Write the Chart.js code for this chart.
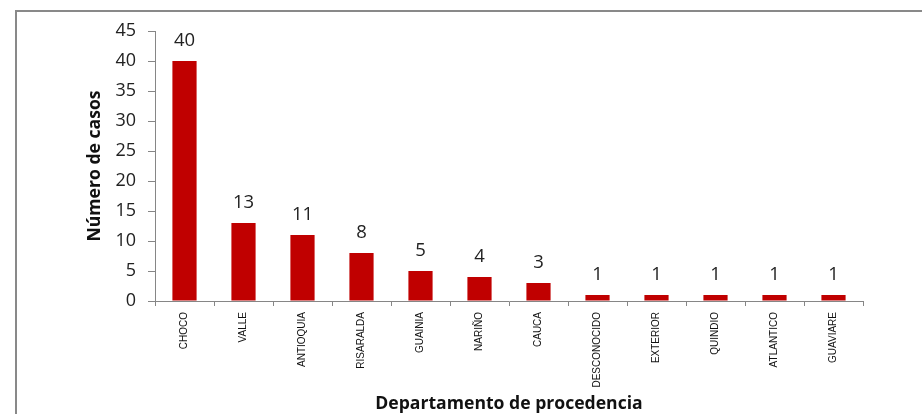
<!DOCTYPE html>
<html>
<head>
<meta charset="utf-8">
<script src="https://cdn.jsdelivr.net/npm/chart.js@4/dist/chart.umd.min.js"></script>
<style>
  html, body { margin: 0; padding: 0; background: #fff; }
  #wrap { width: 922px; height: 414px; }
</style>
</head>
<body>
<div id="wrap"><canvas id="casosChart" width="922" height="414"></canvas></div>
<script>
// casos por departamento de procedencia
const departamentos = ['CHOCO', 'VALLE', 'ANTIOQUIA', 'RISARALDA', 'GUAINIA', 'NARIÑO',
  'CAUCA', 'DESCONOCIDO', 'EXTERIOR', 'QUINDIO', 'ATLANTICO', 'GUAVIARE'];
const casos = [40, 13, 11, 8, 5, 4, 3, 1, 1, 1, 1, 1];
const yMin = 0;
const yMax = 45;
const yPaso = 5;

const rojo = '#C00000';
const gris = '#868686';

// marco gris arriba y a la izquierda
const marco = {
  id: 'marco',
  beforeDraw(chart) {
    const ctx = chart.ctx;
    ctx.save();
    ctx.strokeStyle = '#898989';
    ctx.lineWidth = 2;
    ctx.beginPath();
    ctx.moveTo(16, chart.height);
    ctx.lineTo(16, 11);
    ctx.lineTo(chart.width, 11);
    ctx.stroke();
    ctx.restore();
  }
};

// valor encima de cada barra
const etiquetas = {
  id: 'etiquetas',
  afterDatasetsDraw(chart) {
    const ctx = chart.ctx;
    const meta = chart.getDatasetMeta(0);
    ctx.save();
    ctx.font = '18.5px "Open Sans"';
    ctx.fillStyle = '#222';
    ctx.textAlign = 'center';
    ctx.textBaseline = 'alphabetic';
    meta.data.forEach((bar, i) => {
      ctx.fillText(String(casos[i]), bar.x, bar.y - 15);
    });
    ctx.restore();
  }
};

const ctx = document.getElementById('casosChart').getContext('2d');
const casosChart = new Chart(ctx, {
  type: 'bar',
  data: {
    labels: departamentos,
    datasets: [{
      data: casos,
      backgroundColor: rojo,
      borderWidth: 0,
      barPercentage: 0.41,
      categoryPercentage: 1,
    }],
  },
  options: {
    responsive: false,
    animation: false,
    layout: { padding: { top: 31, right: 59, left: 0, bottom: 0 } },
    plugins: {
      legend: { display: false },
      tooltip: { enabled: false },
    },
    scales: {
      x: {
        afterFit(scale) { scale.height = 113; },
        grid: { drawOnChartArea: false, offset: true, tickLength: 5, color: gris },
        border: { color: gris, width: 1 },
        ticks: {
          autoSkip: false,
          maxRotation: 90,
          minRotation: 90,
          padding: 6,
          color: '#111',
          font: { family: '"Liberation Sans", Arial, sans-serif', size: 10 },
        },
        title: {
          display: true,
          text: 'Departamento de procedencia',
          color: '#111',
          font: { family: '"Open Sans"', size: 17.6, weight: 'bold' },
          padding: { top: 0, bottom: -1 },
        },
      },
      y: {
        min: yMin,
        max: yMax,
        afterFit(scale) { scale.width = 155; },
        grid: { drawOnChartArea: false, tickLength: 7, color: gris },
        border: { color: gris, width: 1 },
        ticks: {
          stepSize: yPaso,
          padding: 12,
          color: '#222',
          font: { family: '"Open Sans"', size: 18 },
        },
        title: {
          display: true,
          text: 'Número de casos',
          color: '#111',
          font: { family: '"Open Sans"', size: 17.6, weight: 'bold' },
          padding: { top: 84, bottom: 0 },
        },
      },
    },
  },
  plugins: [marco, etiquetas],
});
</script>
</body>
</html>
